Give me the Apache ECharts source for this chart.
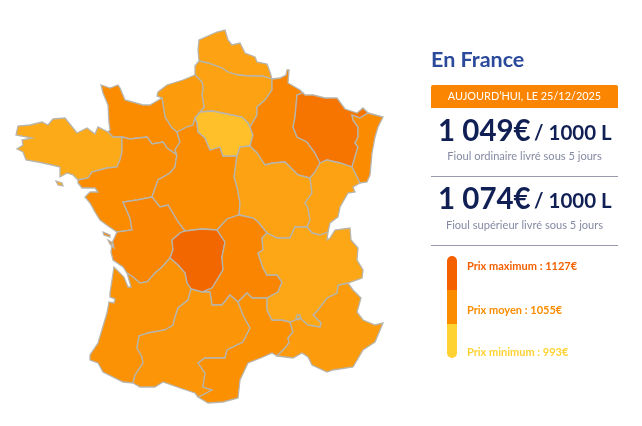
<!DOCTYPE html>
<html><head><meta charset="utf-8">
<style>html,body{margin:0;padding:0;background:#fff}#c{width:642px;height:426px}</style>
<script src="https://cdn.jsdelivr.net/npm/echarts@6/dist/echarts.min.js"></script>
</head><body><div id="c"></div>
<script>
// ---- data ----
const regionNames = ['Nord-Pas-de-Calais','Picardie','Haute-Normandie','Basse-Normandie','Bretagne','Pays de la Loire','Centre','Île-de-France','Champagne-Ardenne','Lorraine','Alsace','Bourgogne','Franche-Comté','Poitou-Charentes','Limousin','Auvergne','Aquitaine','Midi-Pyrénées','Languedoc-Roussillon',"Provence-Alpes-Côte d'Azur",'Rhône-Alpes'];
const regionPrices = [1030,1030,1041,1060,1021,1060,1060,993,1072,1100,1062,1030,1030,1072,1125,1072,1052,1047,1055,1041,1025];
const title = 'En France';
const banner = 'AUJOURD’HUI, LE 25/12/2025';
const ordinaryPrice = '1 049€', superiorPrice = '1 074€', perVolume = '/ 1000 L';
const ordinaryNote = 'Fioul ordinaire livré sous 5 jours', superiorNote = 'Fioul supérieur livré sous 5 jours';
const legendLabels = ['Prix maximum : 1127€','Prix moyen : 1055€','Prix minimum : 993€'];

// ---- region outlines (shared borders, map geometry) ----
const arcs = {
 npc_coast:[[199,61],[198,50],[199,40],[217,32],[225,30],[228,40],[232,45],[240,43],[245,53],[255,57],[257,62],[267,64],[270,72],[272,79]],
 npc_pic:[[199,61],[208,63],[222,68],[228,72],[238,75],[250,76],[262,76],[272,79]],
 pic_coast:[[199,61],[195,66],[195,75]],
 hn_pic:[[195,75],[202,82],[203,88],[202,95],[204,107],[200,112]],
 pic_idf:[[200,112],[212,111],[222,113],[242,117],[248,123],[250,127]],
 pic_ch:[[250,127],[257,115],[257,107],[265,100],[272,90],[272,79]],
 hn_coast:[[195,75],[183,80],[167,85],[158,92],[157,96],[162,98]],
 hn_bn:[[162,98],[165,117],[172,128],[177,132]],
 hn_ce:[[177,132],[187,127],[193,125],[195,118]],
 hn_idf:[[195,118],[200,112]],
 idf_ch:[[250,127],[253,135],[250,146]],
 idf_bo:[[250,146],[240,147],[237,156]],
 idf_ce:[[237,156],[223,156],[220,147],[210,150],[205,138],[198,132],[197,123],[195,118]],
 ce_bo:[[237,156],[235,170],[234,177],[237,187],[240,203],[239,215]],
 ce_au:[[239,215],[227,219],[217,230]],
 ce_li:[[217,230],[202,229],[185,231]],
 ce_po:[[185,231],[178,222],[168,205],[160,207],[152,197]],
 ce_pl:[[152,197],[158,180],[170,173],[175,167],[176,160],[177,155]],
 ce_bn:[[177,155],[175,150],[180,142],[177,132]],
 bn_coast:[[162,98],[150,105],[143,105],[125,100],[120,88],[118,85],[110,88],[101,85],[103,93],[108,105],[109,123],[110,130],[108,132]],
 br_bn:[[108,132],[113,137],[122,137]],
 bn_pl:[[122,137],[130,139],[147,137],[152,144],[163,142],[167,148],[177,155]],
 br_coast:[[108,132],[98,127],[95,134],[87,128],[77,133],[65,118],[53,119],[48,125],[42,122],[30,125],[18,126],[16,135],[32,138],[22,140],[23,145],[17,149],[23,152],[26,160],[38,162],[52,165],[60,167],[60,177],[67,173],[73,175],[78,180]],
 br_pl:[[78,180],[88,178],[92,172],[107,168],[117,167],[120,160],[122,152],[122,137]],
 pl_coast:[[78,180],[78,183],[82,188],[95,188],[98,192],[90,192],[85,197],[90,203],[95,212],[100,220],[108,226],[117,232]],
 pl_po:[[117,232],[132,230],[130,218],[123,202],[137,200],[152,197]],
 po_coast:[[117,232],[112,243],[111,252],[113,260],[123,267],[127,273]],
 po_aq:[[127,273],[133,277],[140,283],[147,282],[155,273],[162,267],[170,258]],
 po_li:[[170,258],[173,250],[172,240],[180,233],[185,231]],
 aq_coast:[[127,273],[131,287],[128,287],[124,277],[114,267],[110,293],[110,297],[115,299],[114,303],[109,302],[107,313],[98,343],[90,355],[90,360],[98,363],[103,372],[123,382],[133,383]],
 aq_mi:[[133,383],[135,375],[143,363],[142,357],[137,348],[139,336],[148,333],[165,330],[173,325],[175,317],[178,308],[188,300],[191,289]],
 aq_li:[[191,289],[187,283],[185,273],[178,265],[170,258]],
 li_mi:[[191,289],[202,292]],
 li_au:[[202,292],[212,288],[223,270],[222,257],[225,242],[217,230]],
 au_mi:[[202,292],[210,292],[212,305],[222,305],[230,295],[238,302]],
 au_la:[[238,302],[247,293],[252,298],[267,298]],
 au_bo:[[239,215],[253,218],[258,222],[267,233]],
 au_ra:[[267,233],[262,238],[263,250],[258,253],[263,268],[267,275],[277,275],[282,282],[278,292],[267,298]],
 mi_la:[[238,302],[243,315],[250,328],[243,342],[227,350],[225,358],[205,358],[198,363],[205,373],[203,387],[212,390],[203,395],[198,397]],
 mi_s:[[133,383],[140,387],[155,387],[163,382],[180,388],[195,393],[198,397]],
 la_coast:[[198,397],[203,400],[208,403],[223,402],[238,398],[240,380],[248,363],[263,357],[272,353],[277,356]],
 la_pa:[[277,356],[285,348],[289,343],[288,338],[293,332],[290,322]],
 la_ra:[[290,322],[282,320],[272,320],[267,310],[267,298]],
 bo_ra:[[267,233],[277,238],[290,238],[295,227],[307,227]],
 bo_fc:[[307,227],[310,220],[308,208],[305,203],[312,193],[310,178]],
 bo_ch:[[310,178],[298,175],[295,172],[285,162],[273,163],[265,165],[257,153],[250,146]],
 fc_ra:[[307,227],[312,233],[320,235],[328,232]],
 fc_east:[[328,232],[330,223],[338,217],[340,207],[348,193],[355,192],[353,187],[360,183]],
 al_fc:[[360,183],[356,175],[352,167]],
 fc_lo:[[352,167],[340,163],[327,160],[320,163]],
 ch_fc:[[320,163],[315,172],[310,178]],
 lo_al:[[368,113],[360,118],[352,115],[353,120],[358,127],[358,137],[355,143],[358,147],[352,167]],
 lo_top:[[303,93],[305,95],[313,95],[325,98],[337,98],[345,109],[357,113],[363,108],[368,113]],
 lo_ch:[[303,93],[297,95],[295,117],[293,127],[297,137],[307,142],[315,153],[320,163]],
 al_east:[[368,113],[383,117],[378,127],[375,137],[372,153],[370,175],[367,182],[360,183]],
 ch_top:[[272,79],[280,78],[286,75],[287,70],[289,70],[288,83],[300,90],[303,93]],
 ra_north:[[328,232],[327,240],[330,238],[335,230],[350,228],[351,240],[358,248],[357,260],[363,270],[362,278],[348,283]],
 ra_pa:[[348,283],[338,285],[337,293],[327,298],[318,310],[313,315],[321,323],[320,327],[308,325],[300,318],[290,322]],
 pa_coast:[[348,283],[353,290],[361,298],[357,312],[363,320],[375,325],[383,323],[375,342],[363,350],[353,367],[333,370],[327,372],[312,365],[308,357],[302,353],[293,358],[285,357],[277,356]]
};
const rings = {
 'Nord-Pas-de-Calais':['npc_coast','-npc_pic'],
 'Picardie':['pic_coast','hn_pic','pic_idf','pic_ch','-npc_pic'],
 'Haute-Normandie':['hn_coast','hn_bn','hn_ce','hn_idf','-hn_pic'],
 'Basse-Normandie':['-hn_bn','bn_coast','br_bn','bn_pl','ce_bn'],
 'Bretagne':['br_coast','br_pl','-br_bn'],
 'Pays de la Loire':['pl_coast','pl_po','ce_pl','-bn_pl','-br_pl'],
 'Centre':['hn_ce','-idf_ce','ce_bo','ce_au','ce_li','ce_po','ce_pl','ce_bn'],
 'Île-de-France':['pic_idf','idf_ch','idf_bo','idf_ce','hn_idf'],
 'Champagne-Ardenne':['ch_top','lo_ch','ch_fc','bo_ch','-idf_ch','pic_ch'],
 'Lorraine':['lo_top','lo_al','fc_lo','-lo_ch'],
 'Alsace':['al_east','al_fc','-lo_al'],
 'Bourgogne':['-au_bo','-ce_bo','-idf_bo','-bo_ch','-bo_fc','-bo_ra'],
 'Franche-Comté':['fc_ra','fc_east','al_fc','fc_lo','ch_fc','-bo_fc'],
 'Poitou-Charentes':['po_coast','po_aq','po_li','ce_po','-pl_po'],
 'Limousin':['-ce_li','-li_au','-li_mi','aq_li','po_li'],
 'Auvergne':['-ce_au','au_bo','au_ra','-au_la','-au_mi','li_au'],
 'Aquitaine':['aq_coast','aq_mi','aq_li','-po_aq'],
 'Midi-Pyrénées':['mi_s','-mi_la','-au_mi','-li_mi','-aq_mi'],
 'Languedoc-Roussillon':['la_coast','la_pa','la_ra','-au_la','mi_la'],
 "Provence-Alpes-Côte d'Azur":['pa_coast','la_pa','-ra_pa'],
 'Rhône-Alpes':['-au_ra','bo_ra','fc_ra','ra_north','ra_pa','la_ra']
};
const islands = {
 'Bretagne':[[[56,181],[62,183],[63,186],[58,185]]],
 'Poitou-Charentes':[[[103,232],[110,235],[110,237],[104,235]],[[108,240],[113,243],[114,248],[110,244]]],
 'Rhône-Alpes':[[[297,315],[300,315],[301,318],[298,320],[296,318]]]
};
function ring(parts){
  const out=[];
  parts.forEach(function(p){
    const rev=p[0]==='-'; const a=arcs[rev?p.slice(1):p].slice(); if(rev)a.reverse();
    a.forEach(function(q){out.push([q[0],-q[1]]);});
  });
  out.push(out[0]);
  return out;
}
const features = regionNames.map(function(n){
  const polys=[[ring(rings[n])]];
  (islands[n]||[]).forEach(function(r){
    const c=r.map(function(q){return [q[0],-q[1]];}); c.push(c[0]); polys.push([c]);
  });
  return {type:'Feature',properties:{name:n},geometry:{type:'MultiPolygon',coordinates:polys}};
});
echarts.registerMap('fr',{type:'FeatureCollection',features:features});

const FONT='Lato';
function txt(text,x,y,size,color,weight,align){
  return {type:'text',silent:true,style:{text:text,x:x,y:y,fill:color,fontFamily:FONT,fontSize:size,fontWeight:weight||'normal',textAlign:align||'left',textVerticalAlign:'middle'}};
}
const NAVY='#101f54', GREY='#858aa2', MAXC='#f45f00', MIDC='#fb8c00', MINC='#ffd233';
const graphic=[
  txt(title,431,60,21.5,'#2c4a9c','bold'),
  {type:'rect',silent:true,shape:{x:431,y:85,width:187,height:23,r:[2,2,0,0]},style:{fill:'#fb8500'}},
  txt(banner,524.5,96.5,10.9,'#fff','normal','center'),
  txt(ordinaryPrice,438,131,29.5,NAVY,'bold'),
  txt(perVolume,534,133,20.5,NAVY,'bold'),
  txt(ordinaryNote,524.5,156,11.1,GREY,'normal','center'),
  {type:'line',silent:true,shape:{x1:431,y1:176.5,x2:618,y2:176.5},style:{stroke:'#989bae',lineWidth:1}},
  txt(superiorPrice,438,199,29.5,NAVY,'bold'),
  txt(perVolume,534,201,20.5,NAVY,'bold'),
  txt(superiorNote,524.5,225,11.1,GREY,'normal','center'),
  {type:'line',silent:true,shape:{x1:431,y1:245.5,x2:618,y2:245.5},style:{stroke:'#989bae',lineWidth:1}},
  {type:'rect',silent:true,shape:{x:447,y:256,width:10,height:34,r:[5,5,0,0]},style:{fill:MAXC}},
  {type:'rect',silent:true,shape:{x:447,y:290,width:10,height:34},style:{fill:MIDC}},
  {type:'rect',silent:true,shape:{x:447,y:324,width:10,height:34,r:[0,0,5,5]},style:{fill:MINC}},
  txt(legendLabels[0],467,266,11,MAXC,'bold'),
  txt(legendLabels[1],467,310,11,MIDC,'bold'),
  txt(legendLabels[2],467,352,11,MINC,'bold')
];
const chart=echarts.init(document.getElementById('c'),null,{renderer:'canvas'});
chart.setOption({
  animation:false,
  backgroundColor:'#fff',
  visualMap:{show:false,type:'continuous',min:993,max:1127,inRange:{color:['#ffc02a','#fb8c00','#f26600']},seriesIndex:0},
  series:[{
    type:'map',map:'fr',silent:true,aspectScale:1,roam:false,
    left:16,top:30,width:367,height:373,
    label:{show:false},
    itemStyle:{borderColor:'#b8b5ad',borderWidth:1.3,areaColor:'#fb8c00'},
    emphasis:{disabled:true},select:{disabled:true},
    data:regionNames.map(function(n,i){return {name:n,value:regionPrices[i]};})
  }],
  graphic:graphic
});
</script></body></html>
